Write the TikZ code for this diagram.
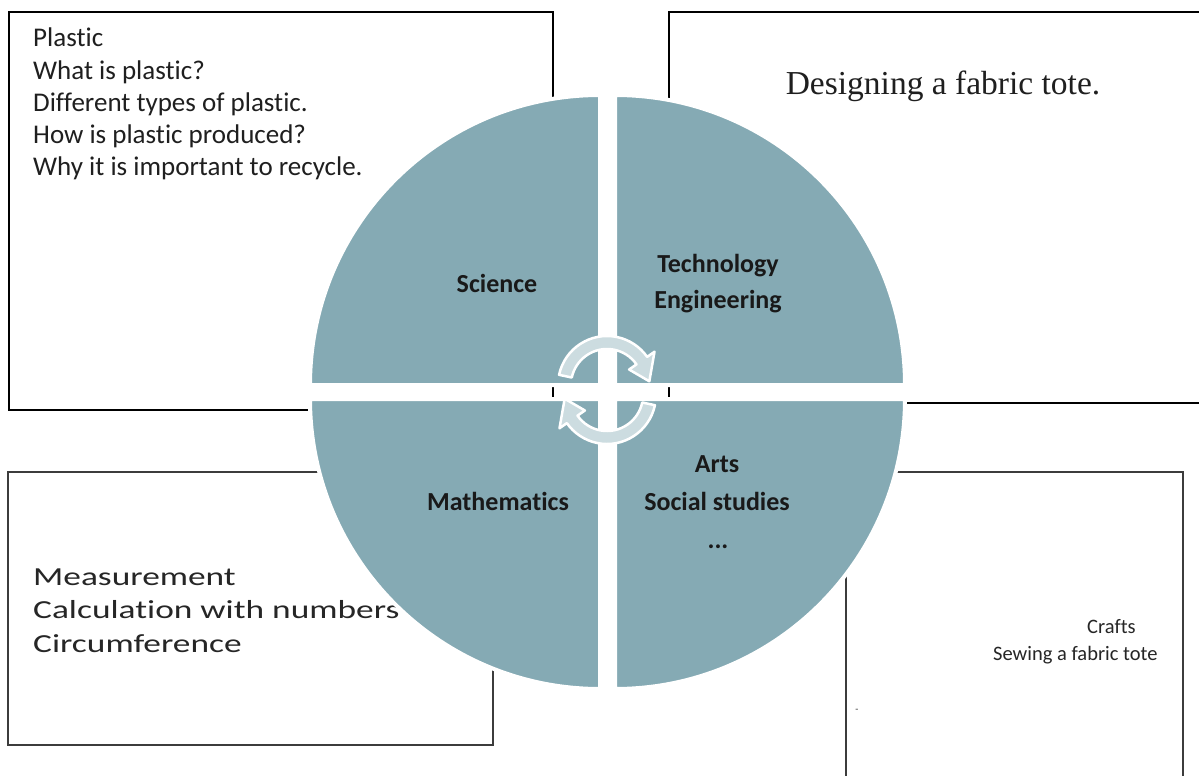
\documentclass[tikz,border=0pt]{standalone}
\usepackage{fontspec}
\setmainfont{Carlito}[Ligatures=NoCommon]
\newfontfamily\titleserif{Liberation Serif}
\newfontfamily\widesans[FakeStretch=1.36,Ligatures=NoCommon]{Carlito}
\usetikzlibrary{calc}
\definecolor{quad}{RGB}{133,170,180}
\definecolor{cyclefill}{RGB}{204,220,224}
\definecolor{framegray}{RGB}{60,60,60}
\begin{document}
\begin{tikzpicture}[x=1pt,y=-1pt,
  frame/.style={draw=black,line width=1.8pt},
  lowframe/.style={draw=framegray,line width=1.8pt},
  quarter/.style={fill=quad,draw=white,line width=4pt,line join=miter},
  cyclearrow/.style={fill=cyclefill,draw=white,line width=2.5pt,line join=round},
  subject/.style={font=\fontsize{26}{30}\selectfont\bfseries,inner sep=0pt,anchor=base,text=black!90},
  topic/.style={font=\fontsize{27}{32}\selectfont,inner sep=0pt,anchor=base west,text=black!88},
  mathtopic/.style={font=\widesans\fontsize{26}{32}\selectfont,inner sep=0pt,anchor=base west,text=black!85},
  crafttopic/.style={font=\fontsize{20.5}{26}\selectfont,inner sep=0pt,anchor=base west,text=black!85}]
\useasboundingbox (0,0) rectangle (1199,776);
\fill[white] (0,0) rectangle (1199,776);

% topic frames behind the wheel
\draw[frame] (9,12) rectangle (553,410);
\draw[frame] (1199,12) -- (669,12) -- (669,403) -- (1199,403);
\draw[lowframe] (8,472) rectangle (493,745);
\draw[lowframe] (846,776) -- (846,472) -- (1183,472) -- (1183,776);

% frame texts
\foreach \t [count=\i] in {Plastic,What is plastic?,Different types of plastic.,How is plastic produced?,Why it is important to recycle.}
  \node[topic] (sci\i) at (33,{14.4+32.3*\i}) {\t};
\node[font=\titleserif\fontsize{33.5}{40}\selectfont,inner sep=0pt,anchor=base,text=black!88] (tech) at (943,95) {Designing a fabric tote.};
\node[mathtopic] (math1) at (33,585) {Measurement};
\node[mathtopic] (math2) at (33,618.5) {Calculation with numbers};
\node[mathtopic] (math3) at (33,652) {Circumference};
\node[crafttopic] (art1) at (1087,633) {Crafts};
\node[crafttopic] (art2) at (993,660) {Sewing a fabric tote};
\node[font=\fontsize{10}{12}\selectfont,inner sep=0pt,text=black!80] (dash) at (857,711) {-};

% the four quarters of the wheel
\path[quarter] (600,385) -- ++(-290,0) arc[start angle=180,end angle=270,radius=290] -- cycle;
\path[quarter] (615,385) -- ++(0,-290) arc[start angle=270,end angle=360,radius=290] -- cycle;
\path[quarter] (600,399) -- ++(-290,0) arc[start angle=180,end angle=90,radius=290] -- cycle;
\path[quarter] (615,399) -- ++(290,0) arc[start angle=0,end angle=90,radius=290] -- cycle;

% quarter labels
\node[subject] (science) at (497,292) {Science};
\node[subject] (techA) at (718,272) {Technology};
\node[subject] (techB) at (718,308) {Engineering};
\node[subject] (mathq) at (498,510) {Mathematics};
\node[subject] (artsA) at (717,472) {Arts};
\node[subject] (artsB) at (717,510) {Social studies};
\node[subject] (artsC) at (718,548) {...};

% circular arrows in the middle
\coordinate (cu) at (607,385);
\coordinate (cl) at (607,395);
\path[cyclearrow] ($(cu)+(-168:49)$) arc[start angle=-168,end angle=-35,radius=49]
  -- ($(cu)+(-35:58)$) -- ($(cu)+(-5:42.5)$) -- ($(cu)+(-35:27)$) -- ($(cu)+(-35:36)$)
  arc[start angle=-35,end angle=-168,radius=36] -- cycle;
\path[cyclearrow] ($(cl)+(12:49)$) arc[start angle=12,end angle=145,radius=49]
  -- ($(cl)+(145:58)$) -- ($(cl)+(175:42.5)$) -- ($(cl)+(145:27)$) -- ($(cl)+(145:36)$)
  arc[start angle=145,end angle=12,radius=36] -- cycle;
\end{tikzpicture}
\end{document}
